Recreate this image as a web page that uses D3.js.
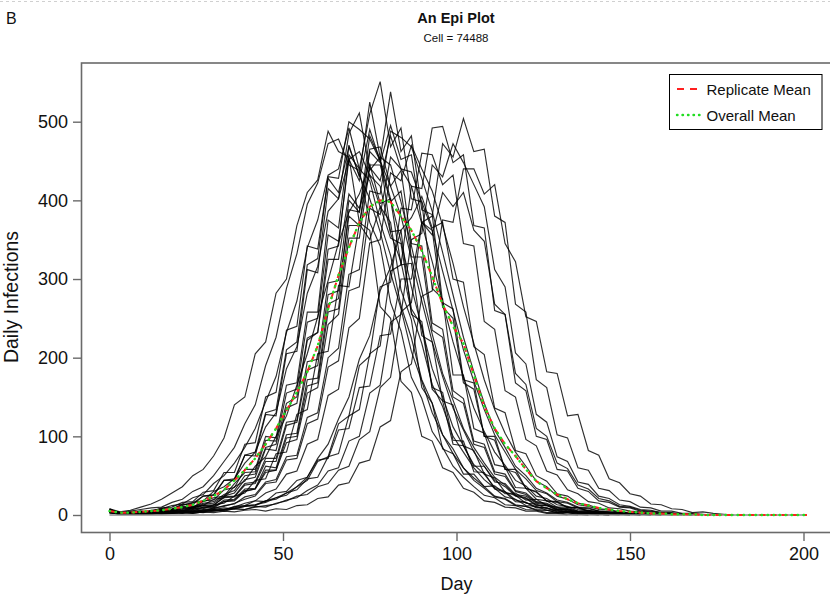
<!DOCTYPE html>
<html>
<head>
<meta charset="utf-8">
<script src="https://cdn.jsdelivr.net/npm/d3@7/dist/d3.min.js"></script>
<style>
  html, body { margin: 0; padding: 0; background: #fff; }
  svg { display: block; font-family: "Liberation Sans", Arial, Helvetica, sans-serif; }
</style>
</head>
<body>
<svg id="chart" width="830" height="601"></svg>
<script>
// ---------------- DATA (values every 3 days, starting at day 0) ----------------
const dayStep = 3;
const xTicks = [0, 50, 100, 150, 200];
const yTicks = [0, 100, 200, 300, 400, 500];
const legendLabels = ["Replicate Mean", "Overall Mean"];

const rep01 = [6,2,3,5,3,6,5,9,8,14,15,24,28,45,48,84,82,136,142,222,232,338,342,458,440,510,551,468,492,402,398,288,275,178,178,110,104,64,61,35,34,20,18,10,10,5,6,3,3,1,2,0];
const rep02 = [4,1,2,3,2,4,3,6,7,12,10,19,20,33,34,62,60,102,104,172,174,268,275,388,385,482,452,538,462,482,388,382,270,262,172,168,100,100,58,58,34,30,18,17,9,10,5,5,2,3,1,1,0];
const rep03 = [7,3,2,4,3,6,5,11,10,18,19,32,35,58,58,100,98,165,168,258,258,375,365,470,430,525,455,445,398,342,285,230,180,146,110,86,66,48,38,25,22,13,12,7,7,3,4,2,1,1,0];
const rep04 = [5,2,3,4,4,8,7,14,13,24,25,44,44,76,75,128,126,205,208,312,308,415,402,485,511,438,455,360,362,255,246,162,156,95,94,55,54,33,29,17,16,9,9,4,5,2,3,1,0];
const rep05 = [4,2,1,3,5,4,7,10,9,17,22,24,40,54,55,95,94,155,160,245,250,356,348,452,425,490,450,418,380,326,272,220,176,136,108,80,62,44,36,24,21,12,12,6,7,3,3,1,0];
const rep06 = [3,2,2,3,2,4,6,5,9,13,12,23,24,40,42,72,72,118,120,195,198,295,298,400,385,465,468,418,438,345,342,244,236,158,148,94,90,55,52,31,28,17,15,9,8,5,4,3,1,1,0];
const rep07 = [5,1,3,2,5,8,7,12,16,18,30,36,46,66,80,112,130,186,214,282,316,386,402,452,462,432,418,358,322,258,218,166,138,100,80,60,45,34,23,20,12,11,6,6,3,3,1,0];
const rep08 = [6,3,2,5,4,9,10,16,17,29,31,54,54,90,92,150,156,235,240,342,338,428,410,468,432,402,360,308,262,208,170,130,102,78,60,44,34,23,20,12,11,6,6,3,3,1,0];
const rep09 = [5,2,1,2,3,2,4,4,7,10,9,17,18,30,33,54,57,92,96,155,162,242,255,352,352,442,425,482,440,418,370,322,270,220,176,136,106,80,63,44,37,24,21,13,11,7,6,3,3,1,1,0];
const rep10 = [4,1,2,1,2,2,3,3,5,5,9,11,15,20,24,40,42,70,72,116,122,188,196,285,290,390,382,455,440,436,398,362,310,260,210,170,134,102,80,58,46,31,27,17,15,9,8,5,4,2,2,1,0];
const rep11 = [7,3,2,2,4,3,6,6,9,12,13,22,23,38,40,68,68,114,118,184,190,280,285,380,368,445,445,398,412,328,328,235,226,150,142,90,86,52,49,30,26,16,14,8,8,4,4,2,1,0];
const rep12 = [4,2,3,2,4,5,4,8,11,12,20,22,36,43,62,74,100,126,165,205,252,298,346,385,408,446,396,402,318,320,228,220,145,140,88,82,52,47,29,25,15,14,8,7,4,4,2,1,0];
const rep13 = [8,2,4,3,6,8,12,14,22,26,40,50,66,86,110,144,176,232,272,340,375,432,440,492,440,425,372,330,266,225,172,142,102,84,60,47,36,24,21,13,11,7,6,3,3,1,0];
const rep14 = [3,1,2,1,2,2,3,4,4,7,8,12,14,23,26,42,45,74,76,124,130,200,212,306,312,412,408,488,480,468,428,386,334,280,226,182,142,108,86,62,50,34,28,19,16,10,9,5,4,3,2,1,1,0];
const rep15 = [4,1,2,1,1,2,2,3,2,4,6,7,10,15,18,28,33,52,56,90,96,152,160,238,250,346,350,435,425,470,440,412,368,320,265,218,172,134,104,80,62,43,36,24,20,13,11,7,6,3,3,2,1,1,0];
const rep16 = [6,3,5,7,9,10,16,20,30,36,50,68,86,116,140,190,226,288,332,395,422,472,478,445,438,372,342,270,234,175,148,106,86,62,48,36,25,22,13,12,7,6,3,3,1,0];
const rep17 = [8,4,6,10,14,20,28,36,50,58,75,98,140,150,205,220,282,300,368,410,426,488,462,455,372,362,265,250,170,156,100,94,60,54,34,29,18,16,10,9,5,5,2,2,0];
const rep18 = [5,1,2,3,2,4,6,7,10,15,17,26,31,50,52,86,90,142,150,225,232,325,325,408,390,432,392,372,286,248,162,142,84,78,52,52,36,37,27,28,19,20,12,10,5,4,2,0];
const rep19 = [3,2,1,2,2,3,4,5,8,8,13,15,24,28,44,46,78,80,128,134,205,208,292,290,370,350,392,352,345,262,240,160,145,90,88,62,62,42,40,26,24,15,13,7,6,3,2,1,0];
const rep20 = [4,1,2,1,2,2,3,2,4,3,5,6,8,7,11,10,15,18,24,26,36,40,57,62,96,106,162,175,258,270,372,380,472,455,504,462,465,380,372,268,258,172,162,102,98,60,57,34,31,19,17,10,9,5,5,2,2,1,0];
const rep21 = [5,2,1,2,3,2,4,3,5,6,8,7,9,12,13,18,22,28,32,46,48,74,78,126,134,205,215,310,318,418,415,492,494,448,458,368,365,260,255,168,158,100,96,58,56,34,30,18,16,10,9,5,4,2,2,1,0];
const rep22 = [3,1,2,2,1,3,2,4,3,5,6,5,8,7,10,12,14,19,22,31,38,56,60,94,100,155,165,245,255,350,358,445,430,472,448,420,392,312,290,206,192,128,118,74,68,42,39,24,21,13,11,7,6,3,3,1,1,0];
const rep23 = [6,2,3,2,4,3,5,4,6,8,7,9,8,11,13,16,22,25,36,44,68,74,116,126,190,202,290,296,390,388,460,458,420,432,345,342,246,236,158,150,96,88,56,51,32,27,17,15,9,8,5,4,2,2,1,0];
const rep24 = [4,1,2,1,2,1,2,3,2,4,3,5,4,6,7,5,8,7,12,13,21,23,38,41,66,70,112,120,182,192,278,285,375,372,440,440,408,420,345,322,252,246,182,180,126,128,82,76,46,41,27,24,14,13,8,7,3,4,2,1,0];
const rep25 = [3,1,2,2,3,2,4,3,5,4,7,6,11,12,18,17,28,30,44,48,70,72,108,110,162,164,228,230,300,300,372,356,410,392,410,362,348,268,255,180,166,110,100,66,59,38,33,21,18,11,10,6,5,3,2,1,0];
const rep26 = [5,2,1,3,2,4,3,5,4,6,5,7,8,11,12,18,20,28,36,48,72,90,122,150,198,228,285,315,362,378,405,365,372,300,296,214,204,136,130,82,78,50,43,27,24,15,13,8,7,4,3,2,1,0];
const rep27 = [4,2,3,2,5,7,8,13,15,24,26,44,46,76,80,130,134,210,220,318,326,430,428,500,490,478,450,402,348,290,238,186,150,112,88,64,52,35,30,19,16,10,9,5,4,2,2,1,0];
const rep28 = [6,2,1,3,2,4,3,6,5,10,11,17,19,31,33,57,57,98,100,164,168,258,262,368,368,462,448,495,452,458,372,362,264,250,168,160,100,95,58,54,34,29,18,16,10,9,5,4,2,2,1,0];

const replicates = [rep01,rep02,rep03,rep04,rep05,rep06,rep07,rep08,rep09,rep10,rep11,rep12,rep13,rep14,
                    rep15,rep16,rep17,rep18,rep19,rep20,rep21,rep22,rep23,rep24,rep25,rep26,rep27,rep28];

const replicateMean = [5,3,3,4,5,6,8,10,13,18,24,32,44,57,72,90,110,133,156,182,215,262,305,340,372,392,400,398,380,362,
                       336,303,268,240,218,178,138,110,90,75,58,43,34,26,20,15,12,9,7,5,4,3,2,2,1,1,1,0,0,0,0,0,0,0,0,0,0,0];
const overallMean   = [5,3,3,4,5,6,8,10,13,18,24,32,44,57,72,90,110,133,156,182,215,262,305,340,372,392,400,398,380,362,
                       336,303,268,240,218,178,138,110,90,75,58,43,34,26,20,15,12,9,7,5,4,3,2,2,1,1,1,0,0,0,0,0,0,0,0,0,0,0];

// ---------------- DRAWING ----------------
const svg = d3.select("#chart");
const FONT = '"Liberation Sans", Arial, Helvetica, sans-serif';

const frame = { left: 81.5, top: 63, bottom: 532.5, right: 846 };
const x = d3.scaleLinear().domain([0, 200]).range([109.5, 803.5]);
const y = d3.scaleLinear().domain([0, 500]).range([515, 121.7]);

// faint dashed border at top of figure
svg.append("line").attr("x1", 0).attr("x2", 830).attr("y1", 1.5).attr("y2", 1.5)
  .attr("stroke", "#d0d0d0").attr("stroke-width", 1).attr("stroke-dasharray", "3,3");

// panel letter + titles
svg.append("text").attr("x", 6).attr("y", 24).attr("font-size", 16).attr("fill", "#111").text("B");
svg.append("text").attr("x", 456).attr("y", 23).attr("text-anchor", "middle")
  .attr("font-size", 14.5).attr("font-weight", "bold").attr("fill", "#111").text("An Epi Plot");
svg.append("text").attr("x", 456).attr("y", 42).attr("text-anchor", "middle")
  .attr("font-size", 11.5).attr("fill", "#111").text("Cell = 74488");

// clip for plotting region
svg.append("clipPath").attr("id", "plotclip").append("rect")
  .attr("x", frame.left).attr("y", frame.top)
  .attr("width", frame.right - frame.left).attr("height", frame.bottom - frame.top);

const plot = svg.append("g").attr("clip-path", "url(#plotclip)");

const line = d3.line()
  .x((d, i) => x(i * dayStep))
  .y(d => y(d))
  .curve(d3.curveLinear);

// replicate lines
plot.append("g").selectAll("path").data(replicates).join("path")
  .attr("d", line)
  .attr("fill", "none")
  .attr("stroke", "#000")
  .attr("stroke-opacity", 0.82)
  .attr("stroke-width", 1.15)
  .attr("stroke-linejoin", "miter");

// zero reference line
plot.append("line")
  .attr("x1", x(0)).attr("x2", x(200)).attr("y1", y(0)).attr("y2", y(0))
  .attr("stroke", "#8a8a8a").attr("stroke-width", 1.4);

// means
plot.append("path").datum(replicateMean).attr("d", line)
  .attr("fill", "none").attr("stroke", "#ff2020").attr("stroke-width", 2)
  .attr("stroke-dasharray", "6,5");
plot.append("path").datum(overallMean).attr("d", line)
  .attr("fill", "none").attr("stroke", "#22dd22").attr("stroke-width", 2.4)
  .attr("stroke-linecap", "round")
  .attr("stroke-dasharray", "0.5,5.5");

// frame
svg.append("rect")
  .attr("x", frame.left).attr("y", frame.top)
  .attr("width", frame.right - frame.left).attr("height", frame.bottom - frame.top)
  .attr("fill", "none").attr("stroke", "#6a6a6a").attr("stroke-width", 1.6);

// y axis
const yAxis = d3.axisLeft(y).tickValues(yTicks).tickSize(8.5).tickPadding(5).tickFormat(d3.format("d"));
const gy = svg.append("g").attr("transform", `translate(${frame.left},0)`).call(yAxis);
gy.select(".domain").remove();
gy.selectAll(".tick line").attr("stroke", "#6a6a6a").attr("stroke-width", 1.4);
gy.selectAll(".tick text").attr("font-size", 18).attr("font-family", FONT).attr("fill", "#111");

// x axis
const xAxis = d3.axisBottom(x).tickValues(xTicks).tickSize(8.5).tickPadding(6).tickFormat(d3.format("d"));
const gx = svg.append("g").attr("transform", `translate(0,${frame.bottom})`).call(xAxis);
gx.select(".domain").remove();
gx.selectAll(".tick line").attr("stroke", "#6a6a6a").attr("stroke-width", 1.4);
gx.selectAll(".tick text").attr("font-size", 18).attr("font-family", FONT).attr("fill", "#111");

// axis titles
svg.append("text").attr("x", 456.5).attr("y", 590).attr("text-anchor", "middle")
  .attr("font-size", 18).attr("fill", "#111").text("Day");
svg.append("text").attr("transform", "translate(18,297) rotate(-90)").attr("text-anchor", "middle")
  .attr("font-size", 19.5).attr("fill", "#111").text("Daily Infections");

// legend
const lg = svg.append("g");
lg.append("rect").attr("x", 669.5).attr("y", 74.5).attr("width", 152.5).attr("height", 55)
  .attr("fill", "#fff").attr("stroke", "#000").attr("stroke-width", 1);
const legendStyles = [
  { stroke: "#ff2020", dash: "7,6", width: 2, cap: "butt" },
  { stroke: "#22dd22", dash: "0.5,5", width: 2.4, cap: "round" }
];
legendLabels.forEach((lab, i) => {
  const cy = 89 + i * 26;
  lg.append("line").attr("x1", 677).attr("x2", 700).attr("y1", cy).attr("y2", cy)
    .attr("stroke", legendStyles[i].stroke).attr("stroke-width", legendStyles[i].width)
    .attr("stroke-linecap", legendStyles[i].cap)
    .attr("stroke-dasharray", legendStyles[i].dash);
  lg.append("text").attr("x", 706.5).attr("y", cy + 5.5).attr("font-size", 15)
    .attr("fill", "#111").text(lab);
});
</script>
</body>
</html>
